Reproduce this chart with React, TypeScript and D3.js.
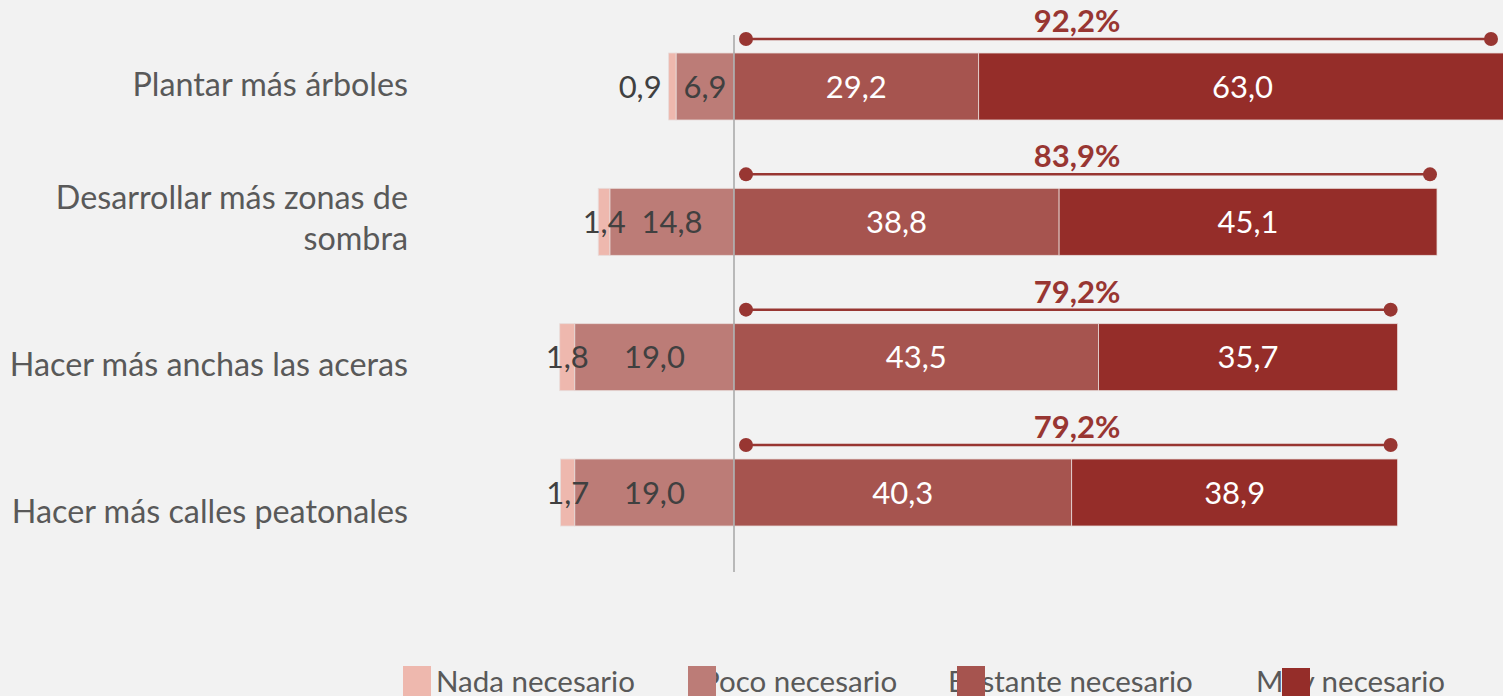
import { useRef, useEffect } from "react";
import * as d3 from "d3";

const categories = [
  ["Plantar más árboles"],
  ["Desarrollar más zonas de", "sombra"],
  ["Hacer más anchas las aceras"],
  ["Hacer más calles peatonales"],
];
const nada = [0.9, 1.4, 1.8, 1.7];
const poco = [6.9, 14.8, 19.0, 19.0];
const bastante = [29.2, 38.8, 43.5, 40.3];
const muy = [63.0, 45.1, 35.7, 38.9];
const totals = ["92,2%", "83,9%", "79,2%", "79,2%"];
const seriesNames = ["Nada necesario", "Poco necesario", "Bastante necesario", "Muy necesario"];
const colors = ["#eeb8ae", "#bc7c77", "#a6544f", "#952d29"];

const fmt = (v: number) => v.toFixed(1).replace(".", ",");

export default function App() {
  const svgRef = useRef<SVGSVGElement>(null);

  useEffect(() => {
    const width = 1503;
    const height = 696;
    const svg = d3.select(svgRef.current);
    svg.selectAll("*").remove();
    svg.append("rect").attr("width", width).attr("height", height).attr("fill", "#f2f2f2");

    const font = "Lato, 'Noto Sans', sans-serif";
    const x = d3.scaleLinear().domain([0, 83.9]).range([734, 1437]);
    const y = d3.scaleBand<number>()
      .domain(d3.range(categories.length))
      .range([53, 526])
      .paddingInner(0.505);
    // category labels don't sit exactly on bar centres in the original
    const yLabel = d3.scaleLinear().domain([0, 1, 3]).range([84, 218, 511]);

    const rows = categories.map((c, i) => ({
      i,
      segs: [
        { k: 0, x0: -poco[i] - nada[i], x1: -poco[i], v: nada[i] },
        { k: 1, x0: -poco[i], x1: 0, v: poco[i] },
        { k: 2, x0: 0, x1: bastante[i], v: bastante[i] },
        { k: 3, x0: bastante[i], x1: bastante[i] + muy[i], v: muy[i] },
      ],
      total: bastante[i] + muy[i],
    }));

    const g = svg.append("g");

    // bars
    rows.forEach(r => {
      const top = y(r.i)!;
      const bw = y.bandwidth();
      r.segs.forEach(s => {
        g.append("rect")
          .attr("x", x(s.x0))
          .attr("y", top)
          .attr("width", x(s.x1) - x(s.x0))
          .attr("height", bw)
          .attr("fill", colors[s.k])
          .attr("stroke", "#e8dcda")
          .attr("stroke-width", 0.8);
      });
      r.segs.forEach(s => {
        const cx = (x(s.x0) + x(s.x1)) / 2;
        const small = s.k === 0 && s.v < 1;
        g.append("text")
          .attr("x", small ? x(s.x0) - 7 : cx)
          .attr("y", top + bw / 2)
          .attr("dy", "0.36em")
          .attr("text-anchor", small ? "end" : "middle")
          .style("font-family", font)
          .style("font-size", "31px")
          .style("fill", s.k >= 2 ? "#ffffff" : "#404040")
          .text(fmt(s.v));
      });
    });

    // zero axis
    g.append("line")
      .attr("x1", x(0)).attr("x2", x(0))
      .attr("y1", 35).attr("y2", 572)
      .attr("stroke", "#a6a6a6")
      .attr("stroke-width", 1.5);

    // total whiskers
    rows.forEach(r => {
      const ly = y(r.i)! - 14;
      const xa = x(0) + 12;
      const xb = Math.min(x(r.total) - 7, width - 12);
      g.append("line")
        .attr("x1", xa).attr("x2", xb)
        .attr("y1", ly).attr("y2", ly)
        .attr("stroke", "#983632")
        .attr("stroke-width", 2.5);
      [xa, xb].forEach(cx => {
        g.append("circle").attr("cx", cx).attr("cy", ly).attr("r", 7).attr("fill", "#983632");
      });
      g.append("text")
        .attr("x", 1077)
        .attr("y", ly - 7)
        .attr("text-anchor", "middle")
        .style("font-family", font)
        .style("font-size", "31px")
        .style("font-weight", "700")
        .style("fill", "#983632")
        .text(totals[r.i]);
    });

    // category labels
    categories.forEach((lines, i) => {
      const cy = yLabel(i);
      const lh = 41;
      const t = g.append("text")
        .attr("text-anchor", "end")
        .style("font-family", font)
        .style("font-size", "32.3px")
        .style("fill", "#595959");
      lines.forEach((l, j) => {
        t.append("tspan")
          .attr("x", 408)
          .attr("y", cy + (j - (lines.length - 1) / 2) * lh)
          .attr("dy", "0.36em")
          .text(l);
      });
    });

    // legend (squares drawn over text as in the original)
    const textX = [436, 702, 948, 1256];
    const boxX = [403, 688, 957, 1282];
    seriesNames.forEach((n, i) => {
      g.append("text")
        .attr("x", textX[i])
        .attr("y", 692)
        .style("font-family", font)
        .style("font-size", "29.5px")
        .style("fill", "#595959")
        .text(n);
    });
    seriesNames.forEach((n, i) => {
      g.append("rect")
        .attr("x", boxX[i])
        .attr("y", i === 3 ? 668 : 666)
        .attr("width", 28)
        .attr("height", 30)
        .attr("fill", colors[i]);
    });
  }, []);

  return (
    <svg
      ref={svgRef}
      width={1503}
      height={696}
      style={{ position: "absolute", left: 0, top: 0, display: "block" }}
    />
  );
}
